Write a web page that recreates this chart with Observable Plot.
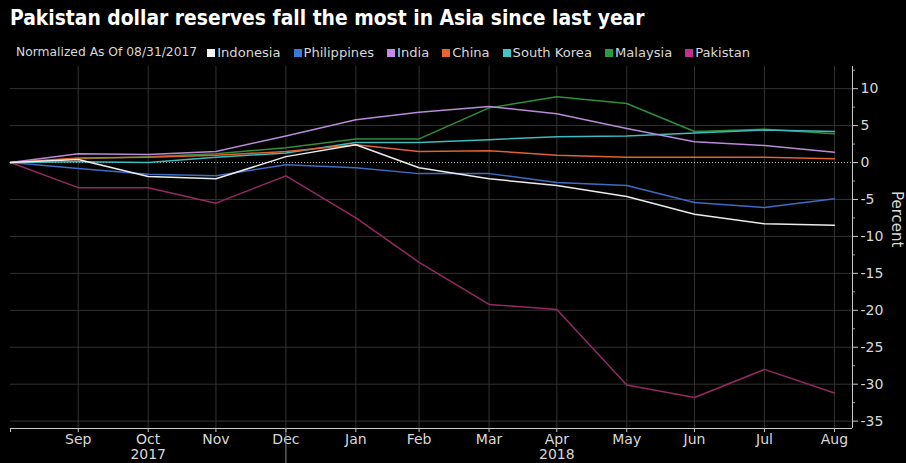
<!DOCTYPE html>
<html><head><meta charset="utf-8">
<script src="https://cdn.jsdelivr.net/npm/d3@7"></script>
<script src="https://cdn.jsdelivr.net/npm/@observablehq/plot@0.6"></script>
<style>
html,body{margin:0;padding:0;background:#000;}
body{width:906px;height:463px;overflow:hidden;position:relative;font-family:"DejaVu Sans",sans-serif;}
#title{position:absolute;left:10px;top:6px;color:#fff;font-family:"DejaVu Sans Condensed","DejaVu Sans",sans-serif;font-stretch:condensed;font-weight:bold;font-size:19px;white-space:nowrap;line-height:24px;}
#legend{position:absolute;left:16px;top:45px;color:#d8d8d8;font-size:13.1px;line-height:15px;display:flex;gap:13px;white-space:nowrap;align-items:center;}
#legend .item{display:flex;align-items:center;}
#legend .sw{width:8px;height:8px;margin-right:2px;display:inline-block;}
#legend .sub{margin-right:-3px;font-size:12.3px;}
#chart{position:absolute;left:0;top:62px;}
</style></head>
<body>
<div id="title">Pakistan dollar reserves fall the most in Asia since last year</div>
<div id="legend"></div>
<div id="chart"></div>
<script>
// ---- data ----
const dateStrings = ["2017-08-31","2017-09-30","2017-10-31","2017-11-30","2017-12-31","2018-01-31","2018-02-28","2018-03-31","2018-04-30","2018-05-31","2018-06-30","2018-07-31","2018-08-31"];
const monthLabels = ["", "Sep","Oct","Nov","Dec","Jan","Feb","Mar","Apr","May","Jun","Jul","Aug"];
const yearLabels = [["2017-10-31","2017"],["2018-04-30","2018"]];
const seriesNames = ["Indonesia","Philippines","India","China","South Korea","Malaysia","Pakistan"];
const seriesColors = ["#ececec","#3e6cc4","#b98ad8","#e0622c","#3cbcbc","#2f8f3a","#942a62"];
const legendColors = ["#f4f4f4","#3b78d8","#c58ae6","#e8642c","#3cc8c8","#2e9a3e","#c0308c"];
const indonesia   = [0, 0.4, -1.9, -2.2, 0.8, 2.4, -0.7, -2.2, -3.1, -4.6, -7.0, -8.3, -8.5];
const philippines = [0, -0.8, -1.6, -1.8, -0.3, -0.7, -1.5, -1.5, -2.7, -3.1, -5.4, -6.1, -4.9];
const india       = [0, 1.2, 1.1, 1.5, 3.6, 5.8, 6.8, 7.6, 6.6, 4.6, 2.8, 2.3, 1.4];
const china       = [0, 0.6, 0.7, 1.0, 1.5, 2.4, 1.5, 1.6, 1.0, 0.7, 0.7, 0.7, 0.5];
const southKorea  = [0, 0.1, 0.0, 0.7, 1.3, 2.7, 2.7, 3.1, 3.5, 3.6, 4.0, 4.4, 4.2];
const malaysia    = [0, 0.5, 0.8, 1.2, 2.0, 3.2, 3.2, 7.4, 8.9, 8.0, 4.2, 4.5, 3.9];
const pakistan    = [0, -3.4, -3.4, -5.5, -1.8, -7.5, -13.5, -19.2, -19.9, -30.1, -31.8, -28.0, -31.2];
const yTicks = [10, 5, 0, -5, -10, -15, -20, -25, -30, -35];
const yMinorTicks = [12.5, 7.5, 2.5, -2.5, -7.5, -12.5, -17.5, -22.5, -27.5, -32.5];
const yDomain = [-36, 13];
const xEnd = "2018-09-08";
const yearBoundary = "2017-12-31";
const subtitle = "Normalized As Of 08/31/2017";
const axisLabel = "Percent";

// ---- build ----
const parse = s => new Date(s + "T00:00:00Z");
const dates = dateStrings.map(parse);
const valuesByName = {"Indonesia": indonesia, "Philippines": philippines, "India": india, "China": china,
  "South Korea": southKorea, "Malaysia": malaysia, "Pakistan": pakistan};
const drawOrder = ["Pakistan","Malaysia","South Korea","China","India","Philippines","Indonesia"];
const rows = [];
for (const name of drawOrder) valuesByName[name].forEach((v, i) => rows.push({name, date: dates[i], value: v}));
const labelFor = new Map(dates.map((d, i) => [+d, monthLabels[i]]));
const yearFor = new Map(yearLabels.map(([d, y]) => [+parse(d), y]));
const xMax = parse(xEnd);

// legend
const legend = document.getElementById("legend");
legend.innerHTML = `<span class="sub">${subtitle}</span>` + seriesNames.map((n, i) =>
  `<span class="item"><span class="sw" style="background:${legendColors[i]}"></span>${n}</span>`).join("");

const font = '"DejaVu Sans", sans-serif';
const chart = Plot.plot({
  width: 906, height: 401,
  marginTop: 4, marginBottom: 35, marginLeft: 10, marginRight: 54,
  style: {background: "#000", color: "#d8d8d8", fontFamily: font, fontSize: "14px"},
  x: {type: "utc", domain: [dates[0], xMax]},
  y: {domain: yDomain},
  color: {domain: seriesNames, range: seriesColors},
  marks: [
    Plot.ruleY(yTicks.filter(d => d !== 0), {stroke: "#323232", strokeWidth: 1}),
    Plot.ruleX(dates.slice(1), {stroke: "#323232", strokeWidth: 1}),
    Plot.ruleY([0], {stroke: "#bbbbbb", strokeWidth: 1, strokeDasharray: "1,2"}),
    Plot.lineY(rows, {x: "date", y: "value", z: "name", stroke: "name", strokeWidth: 1.5, curve: "linear"}),
    Plot.ruleY([yDomain[0]], {stroke: "#c8c8c8", strokeWidth: 1}),
    Plot.ruleX([xMax], {stroke: "#c8c8c8", strokeWidth: 1}),
    Plot.axisY(yTicks, {anchor: "right", tickSize: 5, tickPadding: 3, tickFormat: d => String(d), label: null, stroke: "#c8c8c8", fill: "#d8d8d8"}),
    Plot.axisY(yMinorTicks, {anchor: "right", tickSize: 2, tickFormat: () => "", label: null, stroke: "#9a9a9a"}),
    Plot.axisX([dates[0], ...dates.slice(1)], {anchor: "bottom", tickSize: 4, tickPadding: 2, tickFormat: d => labelFor.get(+d), label: null, stroke: "#c8c8c8", fill: "#d8d8d8"}),
    Plot.axisX([...yearFor.keys()].map(t => new Date(t)), {anchor: "bottom", tickSize: 0, tickPadding: 21, tickFormat: d => yearFor.get(+d), label: null, fill: "#d8d8d8"}),
    Plot.axisX([parse(yearBoundary)], {anchor: "bottom", tickSize: 36, tickFormat: () => "", label: null, stroke: "#8a8a8a"}),
    Plot.text([axisLabel], {frameAnchor: "right", dx: 44, rotate: 90, fontSize: 15, fill: "#d8d8d8"})
  ]
});
document.getElementById("chart").appendChild(chart);

// fit title width to the reference span
const title = document.getElementById("title");
const target = 635;
const w = title.getBoundingClientRect().width;
title.style.fontSize = (19 * target / w).toFixed(2) + "px";
</script>
</body></html>
